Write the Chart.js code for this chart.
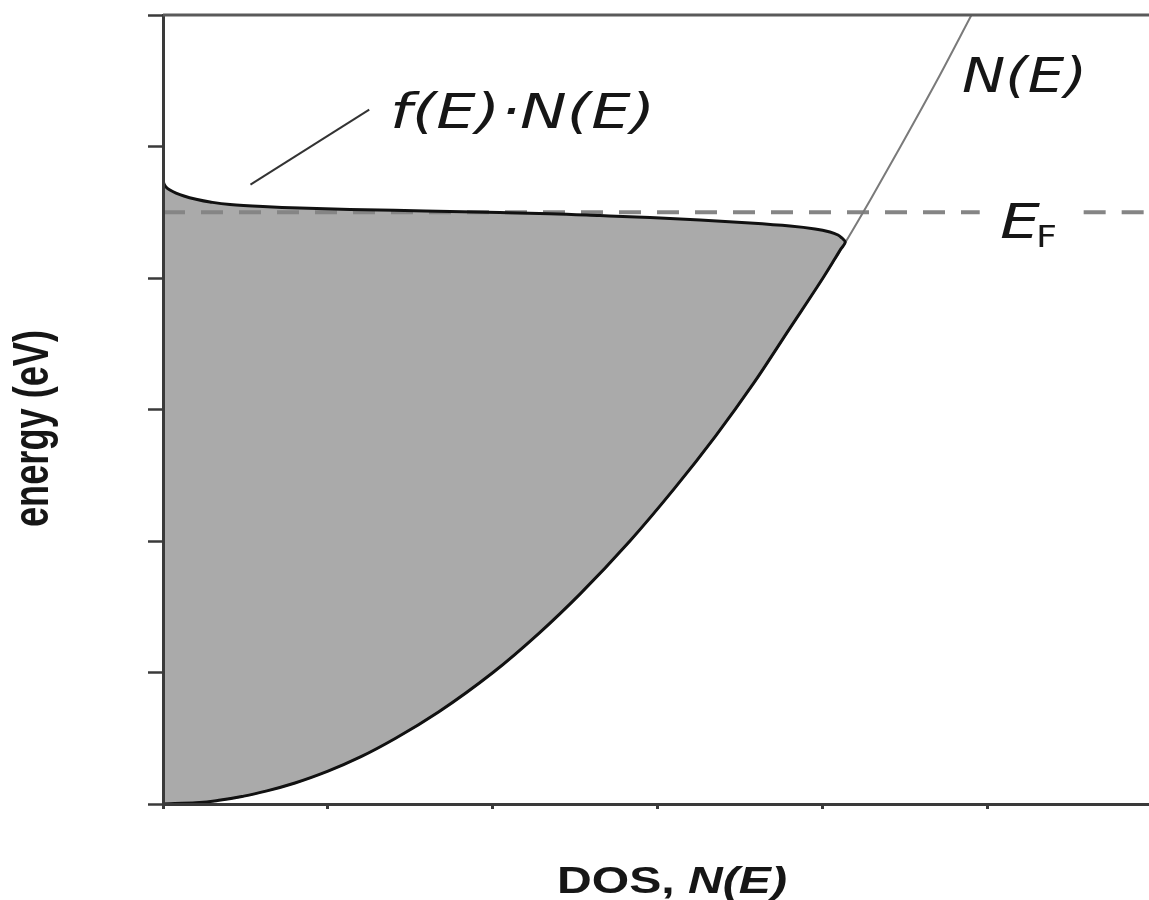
<!DOCTYPE html>
<html>
<head>
<meta charset="utf-8">
<script src="https://cdn.jsdelivr.net/npm/chart.js@4.4.1/dist/chart.umd.min.js"></script>
<style>
  html, body { margin: 0; padding: 0; background: #ffffff; }
  canvas { display: block; }
</style>
</head>
<body>
<canvas id="dos" width="1149" height="900"></canvas>
<script>
// Energies (eV) at which the band density of states is sampled
const bandEnergy = [0, 0.01, 0.03, 0.06, 0.1, 0.16, 0.25, 0.36, 0.5, 0.7, 1.0, 1.3, 1.6, 2.0, 2.4, 2.8, 3.2, 3.6, 4.0, 4.3, 4.6, 5.0, 5.5, 6.0];
// Density of states N(E) at those energies
const bandDos = [0, 0.2, 0.35, 0.49, 0.63, 0.8, 1.0, 1.2, 1.41, 1.67, 2.0, 2.28, 2.53, 2.83, 3.1, 3.35, 3.58, 3.79, 4.0, 4.15, 4.29, 4.47, 4.69, 4.9];

// Occupied states f(E)·N(E): energies (eV) and values
const occEnergy = [0, 0.01, 0.03, 0.06, 0.1, 0.16, 0.25, 0.36, 0.5, 0.7, 1.0, 1.3, 1.6, 2.0, 2.4, 2.8, 3.2, 3.6, 4.0, 4.15, 4.22,
  4.274, 4.304, 4.327, 4.35, 4.373, 4.395, 4.418, 4.441, 4.46, 4.475, 4.489, 4.498, 4.51, 4.521, 4.532, 4.544, 4.559, 4.578,
  4.601, 4.624, 4.646, 4.669, 4.692, 4.715, 4.745];
const occDos = [0, 0.2, 0.35, 0.49, 0.63, 0.8, 1.0, 1.2, 1.41, 1.67, 2.0, 2.28, 2.53, 2.83, 3.1, 3.35, 3.58, 3.79, 4.0, 4.074, 4.108,
  4.135, 4.115, 4.091, 4.042, 3.952, 3.8, 3.558, 3.255, 2.952, 2.648, 2.345, 2.042, 1.588, 1.133, 0.83, 0.606, 0.406, 0.285,
  0.194, 0.127, 0.079, 0.042, 0.018, 0.006, 0];

// Fermi level (eV); the dashed line is broken where the E_F label sits
const fermiLevel = 4.5;
const fermiDos = [0, 4.95, null, 5.58, 5.98];

// Leader from the f(E)·N(E) label down to its curve
const leaderDos = [0.53, 1.25];
const leaderEnergy = [4.71, 5.28];

// Axis tick positions (no tick labels are shown)
const dosTicks = [0, 1, 2, 3, 4, 5];
const energyTicks = [0, 1, 2, 3, 4, 5, 6];

const pairs = (xs, ys) => xs.map((x, i) => ({ x: x, y: ys[i] }));

// Write a run of text parts, squeezed or widened to a given width
function drawRun(ctx, parts, x, baseline, width) {
  let natural = 0;
  parts.forEach(p => { ctx.font = p.font; p.w = ctx.measureText(p.text).width; natural += p.w; });
  const sx = width / natural;
  ctx.save();
  ctx.translate(x, baseline);
  ctx.scale(sx, 1);
  let cx = 0;
  parts.forEach(p => { ctx.font = p.font; ctx.fillText(p.text, cx, 0); cx += p.w; });
  ctx.restore();
}

const frameAndLabels = {
  id: 'frameAndLabels',
  afterDraw(chart) {
    const ctx = chart.ctx;
    const area = chart.chartArea;
    ctx.save();
    // top frame line
    ctx.strokeStyle = '#5a5a5a';
    ctx.lineWidth = 3;
    ctx.beginPath();
    ctx.moveTo(area.left, area.top);
    ctx.lineTo(chart.width, area.top);
    ctx.stroke();

    ctx.fillStyle = '#161616';
    ctx.textAlign = 'left';
    ctx.textBaseline = 'alphabetic';

    // curve labels
    drawRun(ctx, [{ text: 'f(E)·N(E)', font: 'italic 48px "DejaVu Sans"' }], 390, 128, 265);
    drawRun(ctx, [{ text: 'N(E)', font: 'italic 48px "DejaVu Sans"' }], 962, 92, 125);
    drawRun(ctx, [{ text: 'E', font: 'italic 48px "DejaVu Sans"' }], 1000, 238, 40);
    drawRun(ctx, [{ text: 'F', font: '30px "DejaVu Sans"' }], 1036, 247, 21);

    // axis titles
    drawRun(ctx, [
      { text: 'DOS, ', font: 'bold 36px "Liberation Sans"' },
      { text: 'N(E)', font: 'italic bold 36px "Liberation Sans"' }
    ], 557, 893, 230);

    ctx.save();
    ctx.translate(48, 527);
    ctx.rotate(-Math.PI / 2);
    ctx.font = 'bold 38px "Liberation Sans"';
    const t = 'energy (eV)';
    const w = ctx.measureText(t).width;
    ctx.scale(197 / w, 1.3);
    ctx.fillText(t, 0, 0);
    ctx.restore();

    ctx.restore();
  }
};

new Chart(document.getElementById('dos'), {
  type: 'line',
  data: {
    datasets: [
      {
        label: 'f(E)·N(E)',
        data: pairs(occDos, occEnergy),
        borderColor: '#111111',
        borderWidth: 3,
        backgroundColor: '#aaaaaa',
        fill: 'origin',
        cubicInterpolationMode: 'monotone'
      },
      {
        label: 'N(E)',
        data: pairs(bandDos, bandEnergy),
        borderColor: '#7a7a7a',
        borderWidth: 2,
        fill: false,
        cubicInterpolationMode: 'monotone'
      },
      {
        label: 'E_F',
        data: fermiDos.map(x => ({ x: x, y: fermiLevel })),
        borderColor: '#858585',
        borderWidth: 4,
        borderDash: [22, 16],
        fill: false,
        tension: 0,
        spanGaps: false
      },
      {
        label: 'leader',
        data: pairs(leaderDos, leaderEnergy),
        borderColor: '#333333',
        borderWidth: 2,
        fill: false,
        tension: 0
      }
    ]
  },
  options: {
    indexAxis: 'y',
    responsive: false,
    animation: false,
    events: [],
    layout: { padding: { top: 15, right: 0, bottom: 0, left: 0 } },
    elements: { point: { radius: 0, hoverRadius: 0 } },
    plugins: {
      legend: { display: false },
      tooltip: { enabled: false },
      title: { display: false },
      filler: { drawTime: 'beforeDatasetsDraw' }
    },
    scales: {
      x: {
        type: 'linear',
        min: 0,
        max: 5.976,
        afterBuildTicks: s => { s.ticks = dosTicks.map(v => ({ value: v })); },
        afterFit: s => { s.height = 96; },
        ticks: { display: false },
        grid: {
          z: 1,
          display: true,
          drawOnChartArea: false,
          drawTicks: true,
          tickLength: 5,
          tickWidth: 3,
          tickColor: '#3a3a3a'
        },
        border: { z: 1, display: true, color: '#3a3a3a', width: 3 }
      },
      y: {
        type: 'linear',
        min: 0,
        max: 6,
        afterBuildTicks: s => { s.ticks = energyTicks.map(v => ({ value: v })); },
        afterFit: s => { s.width = 163; },
        ticks: { display: false },
        grid: {
          z: 1,
          display: true,
          drawOnChartArea: false,
          drawTicks: true,
          tickLength: 15,
          tickWidth: 2.5,
          tickColor: '#3a3a3a'
        },
        border: { z: 1, display: true, color: '#3a3a3a', width: 3 }
      }
    }
  },
  plugins: [frameAndLabels]
});
</script>
</body>
</html>
